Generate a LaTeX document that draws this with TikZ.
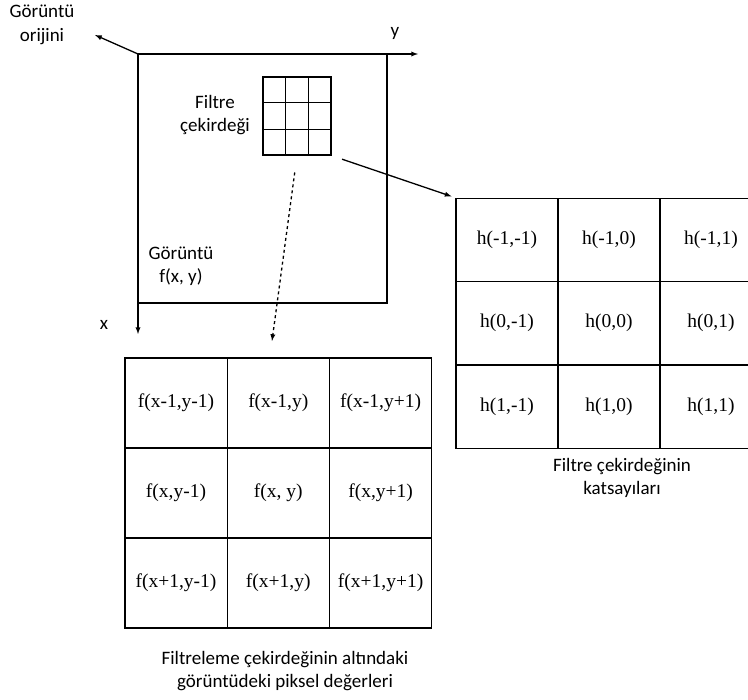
\documentclass[tikz,border=0pt]{standalone}
\usepackage{fontspec}
\setmainfont{Liberation Serif}
\setsansfont{Carlito}
\usepackage{tikz}
\usetikzlibrary{arrows,positioning,calc}

\tikzset{
  lbl/.style={font=\sffamily\fontsize{19}{23.5}\selectfont, align=center, inner sep=0pt},
  cell/.style={draw, line width=1.3pt, font=\rmfamily\fontsize{19.5}{23}\selectfont},
  hcell/.style={cell, minimum width=102pt, minimum height=83.3pt},
  fcell/.style={cell, minimum width=102.3pt, minimum height=90pt},
}

\begin{document}
\begin{tikzpicture}[x=1pt,y=1pt,>=latex,line width=1.3pt,on grid]
  \useasboundingbox (0,0) rectangle (748,-700);

  % image frame and axes
  \coordinate (org)    at (138,-54);
  \coordinate (yend)   at (418,-54);
  \coordinate (xend)   at (138,-334);
  \coordinate (corner) at (387,-303);
  \coordinate (otip)   at (95,-35);
  \draw[->] (org) -- (yend);
  \draw[->] (org) -- (xend);
  \draw (org -| corner) -- (corner) -- (org |- corner);
  \draw[->] (org) -- (otip);

  \node[lbl] (ylbl)   at (395,-33)  {y};
  \node[lbl] (xlbl)   at (104,-325) {x};
  \node[lbl] (orilbl) at (42,-25)   {Görüntü\\orijini};
  \node[lbl] (imglbl) at (181,-266) {Görüntü\\f(x, y)};

  % small filter kernel
  \node[draw, minimum width=68pt, minimum height=78pt, inner sep=0pt] (kern) at (297,-116) {};
  \foreach \i in {1,2}
    \draw ($(kern.north west)!\i/3!(kern.north east)$) -- ($(kern.south west)!\i/3!(kern.south east)$)
          ($(kern.north west)!\i/3!(kern.south west)$) -- ($(kern.north east)!\i/3!(kern.south east)$);
  \node[lbl] (kernlbl) at (215,-115) {Filtre\\çekirdeği};

  % filter coefficients
  \begin{scope}[node distance=83.3pt and 102pt]
    \node[hcell] (h11) at (507,-240) {h(-1,-1)};
    \node[hcell] (h12) [right=of h11] {h(-1,0)};
    \node[hcell] (h13) [right=of h12] {h(-1,1)};
    \node[hcell] (h21) [below=of h11] {h(0,-1)};
    \node[hcell] (h22) [right=of h21] {h(0,0)};
    \node[hcell] (h23) [right=of h22] {h(0,1)};
    \node[hcell] (h31) [below=of h21] {h(1,-1)};
    \node[hcell] (h32) [right=of h31] {h(1,0)};
    \node[hcell] (h33) [right=of h32] {h(1,1)};
  \end{scope}
  \node[lbl] (hlbl) at (622,-478) {Filtre çekirdeğinin\\katsayıları};

  % pixel values under the kernel
  \begin{scope}[node distance=90pt and 102.3pt]
    \node[fcell] (f11) at (176,-403) {f(x-1,y-1)};
    \node[fcell] (f12) [right=of f11] {f(x-1,y)};
    \node[fcell] (f13) [right=of f12] {f(x-1,y+1)};
    \node[fcell] (f21) [below=of f11] {f(x,y-1)};
    \node[fcell] (f22) [right=of f21] {f(x, y)};
    \node[fcell] (f23) [right=of f22] {f(x,y+1)};
    \node[fcell] (f31) [below=of f21] {f(x+1,y-1)};
    \node[fcell] (f32) [right=of f31] {f(x+1,y)};
    \node[fcell] (f33) [right=of f32] {f(x+1,y+1)};
  \end{scope}
  \node[lbl] (flbl) at (285,-671) {Filtreleme çekirdeğinin altındaki\\görüntüdeki piksel değerleri};

  % connectors
  \coordinate (dend) at (272,-341);
  \draw[->, shorten <=11pt, shorten >=4pt] (kern.south east) -- (h11.north west);
  \draw[->, dashed, shorten <=17pt] (kern.south) -- (dend);
\end{tikzpicture}
\end{document}
